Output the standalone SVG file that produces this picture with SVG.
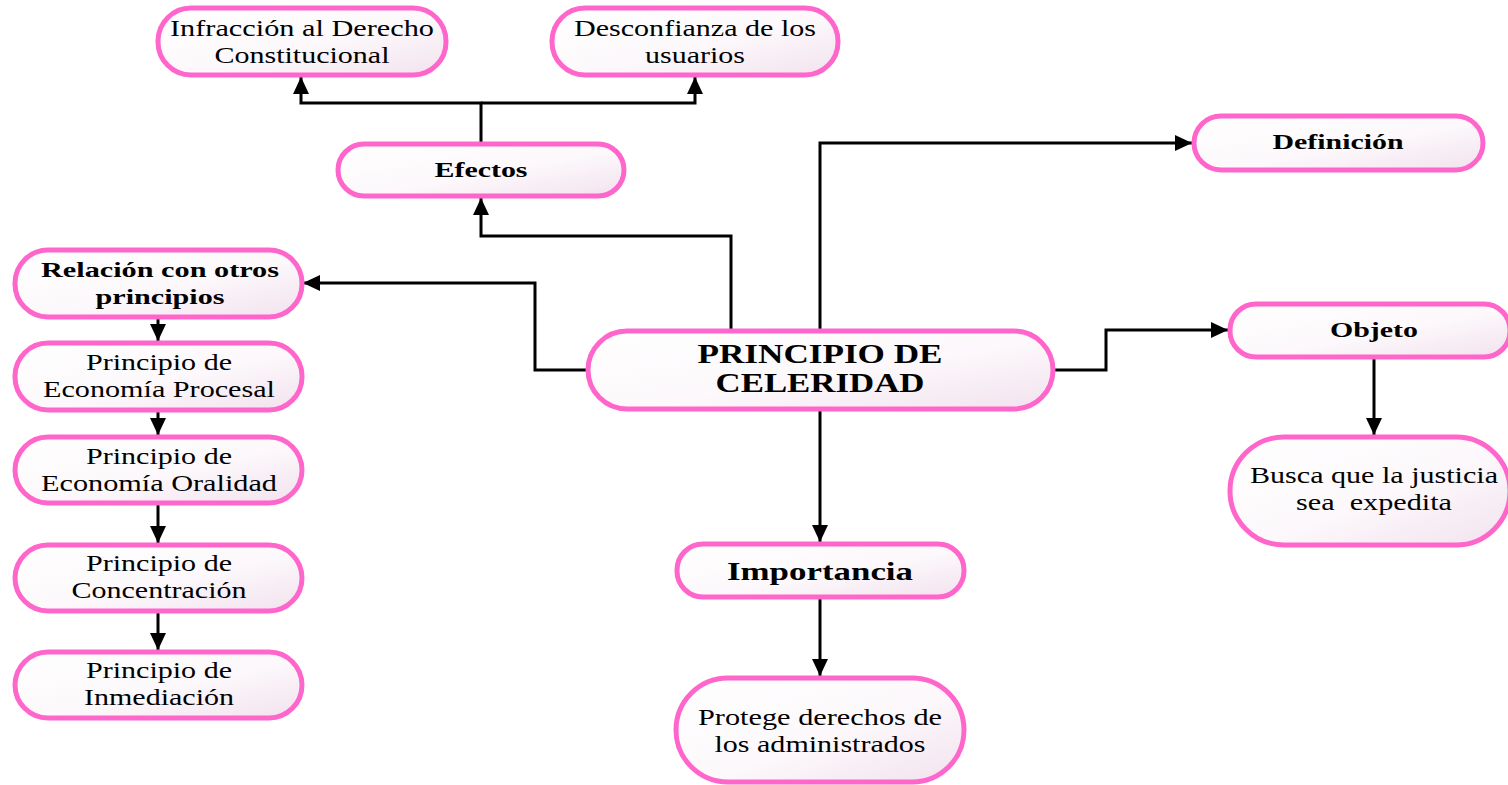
<svg xmlns="http://www.w3.org/2000/svg" width="1508" height="785" viewBox="0 0 1508 785">
<defs>
<linearGradient id="g" x1="0" y1="0" x2="1" y2="1">
<stop offset="0" stop-color="#ffffff"/>
<stop offset="0.55" stop-color="#fcf8fb"/>
<stop offset="1" stop-color="#f2e2ee"/>
</linearGradient>
<marker id="ah" viewBox="0 0 17 16" refX="17" refY="8" markerWidth="17" markerHeight="16" markerUnits="userSpaceOnUse" orient="auto">
<path d="M0,0 L17,8 L0,16 z" fill="#000"/>
</marker>
<style>
.n rect{fill:url(#g);stroke:#FF66CC;stroke-width:5}
.n text{font-family:"Liberation Serif","Times New Roman",serif;fill:#000;text-anchor:middle;font-size:23px}
.n text.b{font-weight:bold;font-size:21px}
.c path{fill:none;stroke:#000;stroke-width:3}
.c path.a{marker-end:url(#ah)}
</style>
</defs>
<rect width="1508" height="785" fill="#fff"/>
<g class="c" id="connectors">
<path class="a" d="M731,330 V236 H481 V198"/>
<path class="a" d="M481,143 V103 H301 V77"/>
<path class="a" d="M481,103 H695 V77"/>
<path class="a" d="M820,330 V143 H1192"/>
<path class="a" d="M587,370 H535 V283 H303"/>
<path class="a" d="M1054,370 H1106 V330 H1228"/>
<path class="a" d="M820,410 V542"/>
<path class="a" d="M820,597 V676"/>
<path class="a" d="M1374,357 V435"/>
<path class="a" d="M158,317 V341"/>
<path class="a" d="M158,410 V435"/>
<path class="a" d="M158,503 V543"/>
<path class="a" d="M158,611 V650"/>
</g>
<g class="n" id="main">
<rect x="588" y="331" width="465" height="78" rx="39"/>
<text class="b" x="820" y="363" style="font-size:27px" textLength="245" lengthAdjust="spacingAndGlyphs">PRINCIPIO DE</text>
<text class="b" x="820" y="392" style="font-size:27px" textLength="209" lengthAdjust="spacingAndGlyphs">CELERIDAD</text>
</g>
<g class="n" id="efectos">
<rect x="338" y="144" width="286" height="52" rx="26"/>
<text class="b" x="481" y="177" textLength="93" lengthAdjust="spacingAndGlyphs">Efectos</text>
</g>
<g class="n" id="infraccion">
<rect x="158" y="8" width="288" height="67" rx="33"/>
<text x="302" y="36" textLength="264" lengthAdjust="spacingAndGlyphs">Infracción al Derecho</text>
<text x="302" y="63" textLength="175" lengthAdjust="spacingAndGlyphs">Constitucional</text>
</g>
<g class="n" id="desconfianza">
<rect x="552" y="8" width="286" height="67" rx="33"/>
<text x="695" y="36" textLength="242" lengthAdjust="spacingAndGlyphs">Desconfianza de los</text>
<text x="695" y="63" textLength="100" lengthAdjust="spacingAndGlyphs">usuarios</text>
</g>
<g class="n" id="definicion">
<rect x="1194" y="116" width="289" height="54" rx="27"/>
<text class="b" x="1338" y="149" textLength="131" lengthAdjust="spacingAndGlyphs">Definición</text>
</g>
<g class="n" id="objeto">
<rect x="1230" y="304" width="280" height="53" rx="26"/>
<text class="b" x="1374" y="337" textLength="88" lengthAdjust="spacingAndGlyphs">Objeto</text>
</g>
<g class="n" id="busca">
<rect x="1230" y="437" width="280" height="108" rx="54"/>
<text x="1374" y="483" textLength="248" lengthAdjust="spacingAndGlyphs">Busca que la justicia</text>
<text x="1374" y="510" style="white-space:pre" textLength="156" lengthAdjust="spacingAndGlyphs">sea  expedita</text>
</g>
<g class="n" id="relacion">
<rect x="15" y="250" width="287" height="67" rx="33"/>
<text class="b" x="160" y="277" textLength="238" lengthAdjust="spacingAndGlyphs">Relación con otros</text>
<text class="b" x="160" y="304" textLength="129" lengthAdjust="spacingAndGlyphs">principios</text>
</g>
<g class="n" id="procesal">
<rect x="15" y="343" width="287" height="67" rx="33"/>
<text x="159" y="370" textLength="146" lengthAdjust="spacingAndGlyphs">Principio de</text>
<text x="159" y="397" textLength="232" lengthAdjust="spacingAndGlyphs">Economía Procesal</text>
</g>
<g class="n" id="oralidad">
<rect x="15" y="437" width="287" height="66" rx="33"/>
<text x="159" y="464" textLength="146" lengthAdjust="spacingAndGlyphs">Principio de</text>
<text x="159" y="491" textLength="236" lengthAdjust="spacingAndGlyphs">Economía Oralidad</text>
</g>
<g class="n" id="concentracion">
<rect x="15" y="545" width="287" height="66" rx="33"/>
<text x="159" y="571" textLength="146" lengthAdjust="spacingAndGlyphs">Principio de</text>
<text x="159" y="598" textLength="175" lengthAdjust="spacingAndGlyphs">Concentración</text>
</g>
<g class="n" id="inmediacion">
<rect x="15" y="652" width="287" height="66" rx="33"/>
<text x="159" y="678" textLength="146" lengthAdjust="spacingAndGlyphs">Principio de</text>
<text x="159" y="705" textLength="150" lengthAdjust="spacingAndGlyphs">Inmediación</text>
</g>
<g class="n" id="importancia">
<rect x="677" y="544" width="287" height="53" rx="26"/>
<text class="b" x="820" y="580" style="font-size:25px" textLength="186" lengthAdjust="spacingAndGlyphs">Importancia</text>
</g>
<g class="n" id="protege">
<rect x="676" y="678" width="288" height="104" rx="52"/>
<text x="820" y="725" textLength="244" lengthAdjust="spacingAndGlyphs">Protege derechos de</text>
<text x="820" y="752" textLength="211" lengthAdjust="spacingAndGlyphs">los administrados</text>
</g>
</svg>
